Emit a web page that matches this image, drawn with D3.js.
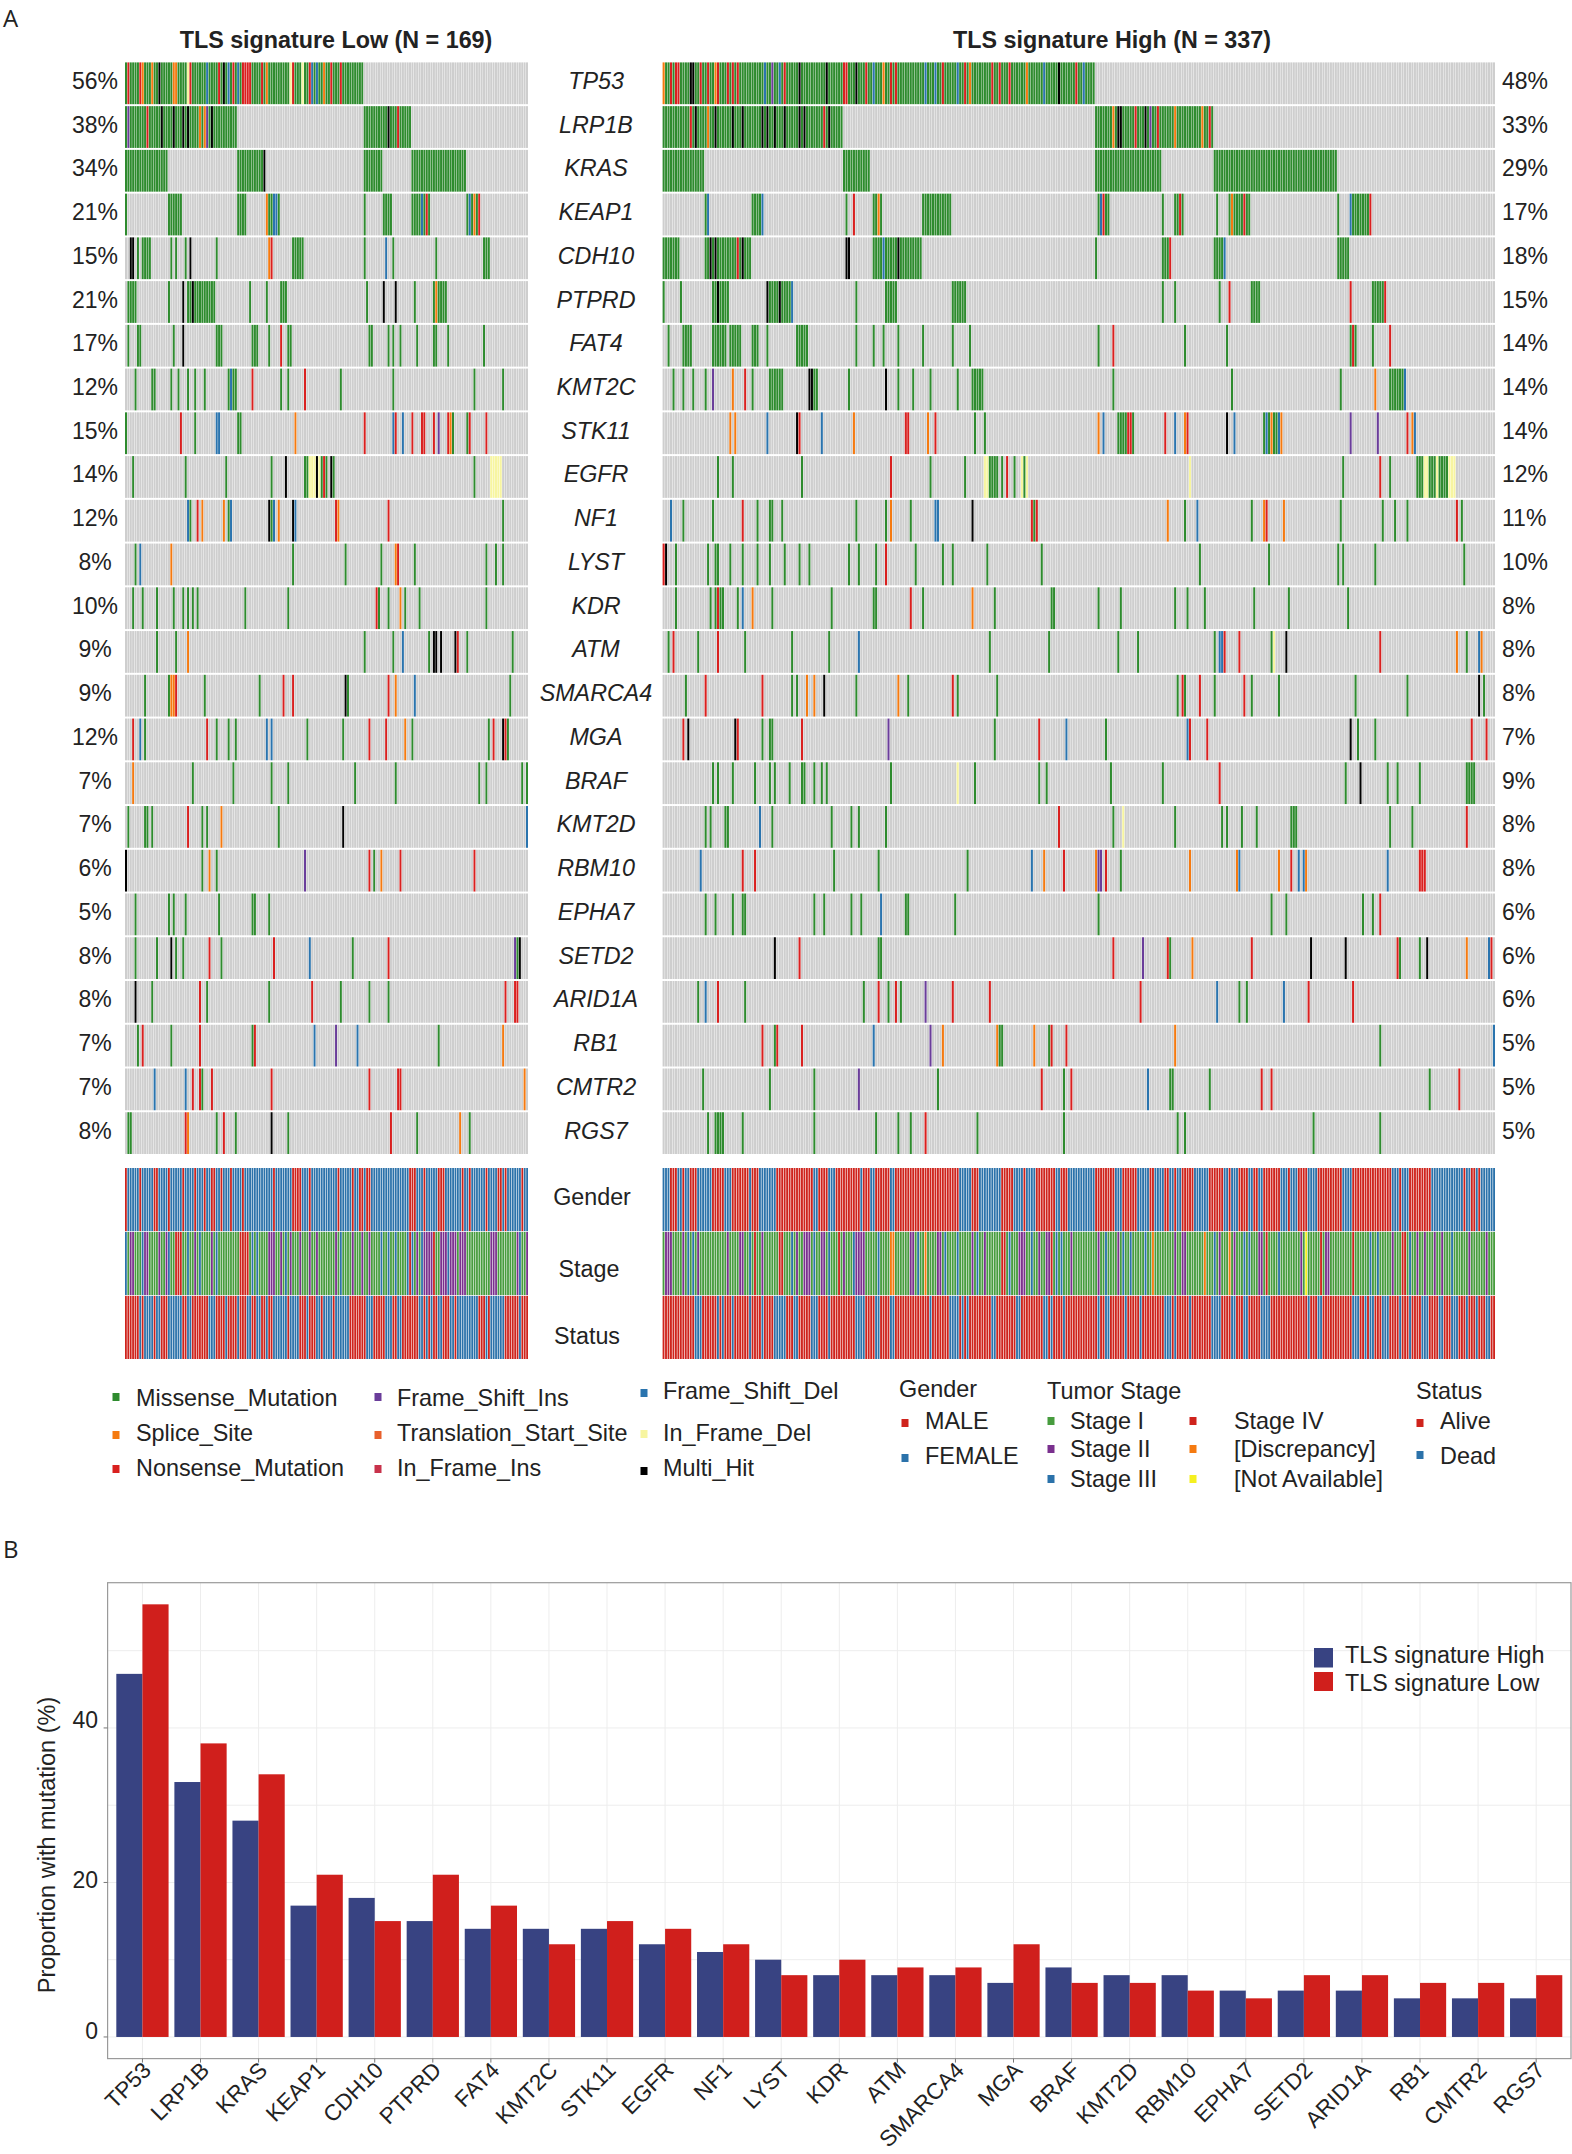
<!DOCTYPE html>
<html>
<head>
<meta charset="utf-8">
<script src="https://cdn.jsdelivr.net/npm/d3@7"></script>
<style>
html,body{margin:0;padding:0;background:#fff;}
svg{display:block;}
text{font-family:"Liberation Sans",Arial,sans-serif;fill:#222;}
</style>
</head>
<body>
<div id="chart"></div>
<script>
//////////////////////data//////////////////////
const genes=["TP53","LRP1B","KRAS","KEAP1","CDH10","PTPRD","FAT4","KMT2C","STK11","EGFR","NF1","LYST","KDR","ATM","SMARCA4","MGA","BRAF","KMT2D","RBM10","EPHA7","SETD2","ARID1A","RB1","CMTR2","RGS7"];
const lowPct=[56,38,34,21,15,21,17,12,15,14,12,8,10,9,9,12,7,7,6,5,8,8,7,7,8];
const highPct=[48,33,29,17,18,15,14,14,14,12,11,10,8,8,8,7,9,8,8,6,6,6,5,5,5];
const barHigh=[47,33,28,17,18,15,14,14,14,12,11,10,8,8,8,7,9,8,8,6,6,6,5,5,5];
const barLow=[56,38,34,21,15,21,17,12,15,14,12,8,10,9,9,12,7,7,6,5,8,8,7,7,8];
const nLow=169;
const nHigh=337;

//samples by position: M missense S splice N nonsense F fs_ins T tss I if_ins D fs_del E if_del H multi
const lowCalls=[
"0-99M 1N 6N 7S 11S 14H 20-21S 26E 27N 34D 39N 41H 43D 45N 47D 49-52N 57N 59S 69E 70N 74E 77N 78D 80D 83S 86N 90N",
"0-46M 1F 9N 15H 20H 24H 26H 31S 33S 34F 36H 100-119M 110H 114N",
"0-17M 47-57M 58H 100-107M 120-142M",
"0M 18-23M 47-50M 59-64M 59S 62D 63D 100M 108-111M 120-127M 124D 126N 143-148M 144D 146S 148N",
"2-3H 5M 7-10M 19M 21M 25M 27H 38M 60S 61N 70-74M 100M 109D 112M 130M 150-152M",
"1-4M 18M 24H 26-37M 28H 52M 59M 65-67M 101M 108H 113H 121M 129-134M 130S",
"1M 5-6M 20M 24H 38-40M 53-55M 60M 65N 68-69M 102-103M 110M 112M 115M 122M 129-130M 135M 150M",
"4M 11-12M 19M 22M 26M 29M 33M 43M 44D 45-46M 53N 65M 68M 75N 90M 112M 146M 158M",
"0M 23N 29M 38-39D 47-48M 71S 100N 112D 113N 116D 120N 124-125N 129N 131F 135N 136S 137M 143M 144N 151N",
"3M 25M 42M 61M 67H 75-76M 77-79E 80H 81E 82M 83N 84M 86H 87M 146M 153-157E",
"26D 27M 30N 32S 41S 43M 44D 60H 61M 62D 64S 70H 71D 88N 89S 110N 158M",
"4M 6D 19S 70M 92M 107M 113S 114N 121M 151M 155M 158M",
"3M 7M 13M 20M 24M 26M 28M 30M 50M 68M 105N 106M 110M 115S 117M 123M 151M",
"13M 21M 26S 100M 112M 116D 127M 129H 130H 132H 138H 139N 143M 162M",
"8M 18M 19-20S 21N 33M 56M 66N 70N 92H 93M 110N 113S 121D 161M",
"3N 6D 8M 34N 38M 43M 46M 59D 61D 76M 91M 102N 109N 117S 120M 152M 154N 158H 159N 160M",
"3S 28M 45M 61M 68M 96M 113M 148M 151M 166M 168M",
"1M 8-9M 11M 26N 32M 34M 40S 64M 91H 168D",
"0H 32M 35S 38M 75F 102N 104M 107S 115N 146N",
"4M 18M 20M 25M 39M 53-54M 60M",
"4M 13M 19H 21M 24M 35N 40M 62N 77D 95M 110N 163F 164M 165H",
"4H 11M 31N 34M 60M 78N 90M 102M 110M 159N 163-164N",
"5M 7N 19M 31N 53M 54N 79D 88F 97D 131M 158S",
"12D 25D 28N 31N 32M 36N 61N 102N 114-115N 167S",
"1-2M 25N 26S 38M 41N 46M 61H 68M 111N 122M 140S 144M"
];
const highCalls=[
"0-174M 0S 3N 5N 6N 11H 12H 15N 18N 21S 22N 26N 28N 30N 41D 44F 47D 49N 55H 66H 73N 74N 78H 82N 85D 89S 92N 94N 106D 110D 113N 119D 122N 124S 133N 136N 140N 147S 154D 160H 167N 170D",
"0-72M 11N 13H 18S 21H 28H 32H 40H 42H 45H 49H 55H 57H 65N 67H 175-222M 182S 184-185H 191N 195H 197F 200N 207S 218S 221N",
"0-16M 73-83M 175-201M 223-272M",
"17M 18D 36-39M 40D 74M 77N 85-88M 87S 105-116M 176-180M 177D 178N 202M 207-210M 209N 224M 229-237M 230S 235N 273M 278-286M 278D 286N",
"0-6M 17-35M 19H 21H 30N 32H 74-75H 85-104M 89D 95H 175M 202-205M 205N 223-227M 227D 273-277M",
"0M 7M 20-26M 22H 42-52M 42H 47H 52D 78M 90-94M 117-122M 202M 207M 225M 229N 238-241M 278N 287-292M 292N",
"2M 8-11M 20-25M 27-31M 36-38M 42M 54-58M 78M 85M 89M 95M 105M 117M 124M 176M 182N 211M 228M 278-280M 279N 287M 294N",
"4M 8M 12M 17M 20F 28S 33N 36M 43-48M 59-60H 61-62M 75M 90H 95M 101M 108M 119M 125-129M 182M 230M 274M 288S 294-300M 300D",
"27S 29S 42D 54H 55N 64D 77S 98-99N 107S 110N 126M 130M 176S 178D 184-190M 188N 189N 203N 207D 211S 212N 228H 231D 243-250M 244D 246S 249D 250S 278F 289F 301N 303S 304D",
"22M 28M 56M 92N 108M 122M 130-131E 132-135M 137M 139N 142M 145E 146M 147E 213E 275M 290N 294M 305-320M 308-309E 313E 318-320E",
"3D 8M 20M 32N 38M 43-44M 48M 78M 90M 92S 100M 110-111D 125H 149N 150M 151N 204S 211M 216D 238M 243S 244N 251S 274M 291M 296M 301M 321N 323M",
"0N 1H 5M 18M 21-22M 27M 32M 38M 43M 49M 55M 59M 75M 79M 86M 90N 102M 113M 117M 131M 153M 217M 245M 273M 275M 288M 324M",
"5M 19M 21-24M 22N 30M 32D 36S 44M 68M 85M 86M 100N 105M 125S 134M 157-158M 176M 185M 207M 212M 219M 239M 253M 277M",
"2M 4N 14M 22N 33M 52M 67M 79D 132M 156M 184M 192M 223M 225-226D 227N 233N 246M 247E 252H 290N 321S 325M 330D 331S",
"9M 17N 40N 52M 54M 58S 61S 65H 78M 95S 99M 117N 119M 135M 208M 210N 211M 217N 223M 235N 238M 249M 280M 301M 330H 332M",
"8N 10H 29H 30N 40M 43-44M 56N 91F 134M 152N 163D 179M 212D 213N 220N 278H 281M 288M 327N 333N",
"20M 22M 28M 37M 43M 45M 51M 56-57M 61M 64M 66M 92M 119E 126M 152M 155M 181M 202M 225N 276M 282H 293M 297M 306M 325-328M",
"17M 19M 25-26M 39D 44M 68M 76M 79M 90M 160N 182M 186E 207M 226M 228M 234M 240M 254-256M 294M 303M 325N",
"15D 32N 37N 69M 87M 123M 149D 154S 162N 175S 176-177F 179N 185M 213S 232S 233D 249S 254N 257D 259D 260S 293D 306-308N",
"17M 21M 28M 32-33M 61M 65M 76M 80M 88D 98M 99M 118M 176M 246M 252M 283M 287M 290N",
"45H 55N 87-88M 182N 194F 204N 205M 214S 238N 262H 276H 297N 298M 306M 309H 325S 334D 335N",
"14M 17D 22N 33M 81M 87N 91M 94N 96M 106F 117N 132N 193N 224D 233M 236M 251D 261N 279N",
"40N 45M 46N 56N 85D 108F 113S 135S 136-137M 150S 156M 157N 163N 207S 290M 336D",
"16M 43M 61M 79F 111M 153N 162M 165N 196D 205-206M 221M 242N 246N 310M 322N",
"18M 21-24M 32M 61M 86M 95M 100M 106N 127M 162M 208M 211M 263M 290M"
];

//annotation tracks, same position format
const lowGender="0-168f 0m 6m 12-13m 18m 24m 29m 33m 36-37m 40m 44m 49m 62m 70-73m 77m 89m 95m 98-99m 101-102m 119-121m 125m 131m 132-133m 141m 144m 151m 156-157m 159m 166m";
const lowStage="0-168g 0b 2-3p 7b 8-9p 14p 17p 18b 21-23r 26b 29p 31b 36p 38b 48-51r 53b 55b 60-62p 65p 67b 69p 73p 77p 80p 88p 90b 95p 99p 102p 107b 110b 113b 118b 119r 120b 122p 124b 125-128p 129r 132-138p 135b 140-142p 153-155p 164p 165b 168p";
const lowStatus="0-168d 0-5a 7a 12a 15-17a 24a 25a 28-32a 33-34a 38-41a 43-46a 48-50a 53-54a 57-58a 60-61a 68a 73-75a 77-79a 82a 87a 94-100a 104-108a 112-113a 116-122a 125a 127a 129-130a 133-135a 138a 148-150a 152a 159-164a 166-168a";
const highGender="0-336f 3-5m 8m 11-13m 20-24m 28-34m 36-38m 46-60m 63-66m 70-79m 81-83m 86-91m 94-98m 99-119m 125-127m 137-141m 146m 151-158m 161-163m 175-182m 186-191m 197-198m 203-204m 207m 210-214m 221-226m 229m 233-236m 239-240m 243-249m 253m 257-260m 265-274m 279-291m 292-294m 298m 302-310m 324m 327-328m 330m";
const highStage="0-336g 1-3p 8p 10b 12b 14p 26p 31-32p 35b 37r 40p 47-48r 52b 54p 57-59p 61b 64-65p 67b 71r 73p 77b 78-81p 87b 92-93o 100-101p 103b 106o 111-112p 114b 119b 125p 127b 130p 137-138r 140b 144-146p 149b 152p 155-156p 157r 159b 161b 165p 176p 179b 184p 186b 189b 195b 198o 207p 210-211p 219o 223b 225p 229o 231p 235b 237b 241-242p 244r 249b 258p 260e 266r 268-269p 279r 286b 289b 295p 299-300r 302b 305p 308p 312p 315p 319b 326p 333p";
const highStatus="0-336a 13-15d 22d 24d 28d 35d 40d 45-49d 53-54d 60-62d 67d 78-81d 86-87d 92-93d 108d 116-119d 121d 123d 133-134d 143-144d 154-155d 157d 162d 176d 179-180d 187d 193d 203-205d 207d 213d 222-225d 230-231d 235-236d 242-245d 261d 265-266d 279-281d 284d 286-287d 291-293d 298d 302d 307-309d 314-315d 319-321d 325d 329d 333-334d";

//凡例
const mutTypes=["M","S","N","F","T","I","D","E","H"];
const mutColors=["#2E8B2E","#F57A10","#D9201F","#6A3D9A","#E8602C","#C8324B","#2A74AE","#F7F5A0","#000000"];
const mutLegend=["Missense_Mutation","Splice_Site","Nonsense_Mutation","Frame_Shift_Ins","Translation_Start_Site","In_Frame_Ins","Frame_Shift_Del","In_Frame_Del","Multi_Hit"];
const annoTypes=["m","f","g","p","b","r","o","e","a","d"];
const annoColors=["#CF231C","#2B72AA","#479C3E","#7A308E","#2B72AA","#CF231C","#F57A10","#F5F020","#CF231C","#2B72AA"];
const trackNames=["Gender","Stage","Status"];
const stageLegend=["Stage I","Stage II","Stage III","Stage IV","[Discrepancy]","[Not Available]"];
const stageKeys=["g","p","b","r","o","e"];
const yTicksB=[0,20,40];
const yGridMinor=[10,30,50];

//////////////////////draw//////////////////////
const width=1572,height=2154;
const svg=d3.select("#chart").append("svg").attr("width",width).attr("height",height);
const mutColor=d3.scaleOrdinal(mutTypes,mutColors);
const annoColor=d3.scaleOrdinal(annoTypes,annoColors);

//"3-5M 7N" -> {3:"M",4:"M",5:"M",7:"N"}
function parseRuns(s){
    let res={};
    s.split(" ").forEach(function(tok){
        let m=tok.match(/^(\d+)(?:-(\d+))?([A-Za-z])$/);
        let a=+m[1],b=m[2]?+m[2]:a;
        for(let i=a;i<=b;i++){res[i]=m[3];}
    });
    return res;
}

const yRow=d3.scaleBand().domain(genes).range([62.4,1154]).paddingInner(0.045);
const yTrack=d3.scaleBand().domain(trackNames).range([1168,1359]).paddingInner(0.012);

function drawPanel(x,xt,calls,tracks){
    let g=svg.append("g");
    genes.forEach(function(gene,i){
        let row=parseRuns(calls[i]);
        g.append("g").selectAll("rect").data(x.domain()).enter().append("rect")
            .attr("x",function(d){return x(d);})
            .attr("y",yRow(gene))
            .attr("width",x.bandwidth())
            .attr("height",yRow.bandwidth())
            .attr("fill",function(d){return row[d]?mutColor(row[d]):"#CECECE";});
    });
    trackNames.forEach(function(name,i){
        let row=parseRuns(tracks[i]);
        g.append("g").selectAll("rect").data(xt.domain()).enter().append("rect")
            .attr("x",function(d){return xt(d);})
            .attr("y",yTrack(name))
            .attr("width",xt.bandwidth())
            .attr("height",yTrack.bandwidth())
            .attr("fill",function(d){return annoColor(row[d]);});
    });
}
const xLow=d3.scaleBand().domain(d3.range(nLow)).range([125,528]).paddingInner(0.16);
const xHigh=d3.scaleBand().domain(d3.range(nHigh)).range([662.6,1495]).paddingInner(0.16);
const xLowTrack=d3.scaleBand().domain(d3.range(nLow)).range([125,528]).paddingInner(0.25);
const xHighTrack=d3.scaleBand().domain(d3.range(nHigh)).range([662.6,1495]).paddingInner(0.25);
drawPanel(xLow,xLowTrack,lowCalls,[lowGender,lowStage,lowStatus]);
drawPanel(xHigh,xHighTrack,highCalls,[highGender,highStage,highStatus]);

function label(x,y,txt,size,anchor,extra){
    let t=svg.append("text").attr("x",x).attr("y",y).attr("font-size",size)
        .attr("text-anchor",anchor||"start").attr("dominant-baseline","central").text(txt);
    if(extra){extra(t);}
    return t;
}
//panel letters
label(3,17,"A",24,"start",function(t){t.style("font-family","'Open Sans'");});
label(3,1548,"B",24,"start",function(t){t.style("font-family","'Open Sans'");});
//titles
label(336,40,"TLS signature Low (N = 169)",23.3,"middle",function(t){t.attr("font-weight","bold");});
label(1112,40,"TLS signature High (N = 337)",23.3,"middle",function(t){t.attr("font-weight","bold");});
//gene rows
genes.forEach(function(gene,i){
    let cy=yRow(gene)+yRow.bandwidth()/2-2.5;
    label(95,cy,lowPct[i]+"%",23,"middle");
    label(1502,cy,highPct[i]+"%",23,"start");
    label(596,cy,gene,23.3,"middle",function(t){t.attr("font-style","italic");});
});
label(592,1197,"Gender",23.3,"middle");
label(589,1269,"Stage",23.3,"middle");
label(587,1336,"Status",23.3,"middle");

//////////////////////legend//////////////////////
const legendSize=23.4;
function legendItem(sx,sy,tx,ty,txt,col){
    svg.append("rect").attr("x",sx-3.5).attr("y",sy-4).attr("width",7).attr("height",8).attr("fill",col);
    label(tx,ty,txt,legendSize);
}
const mutLegendX=[[116,136],[378,397],[644,663]];
const mutLegendY=[[1397,1435,1469],[1397,1435,1469],[1393,1434,1471]];
const mutTextY=[[1398,1433,1468],[1398,1433,1468],[1391,1433,1468]];
mutLegend.forEach(function(txt,i){
    let c=Math.floor(i/3),r=i%3;
    legendItem(mutLegendX[c][0],mutLegendY[c][r],mutLegendX[c][1],mutTextY[c][r],txt,mutColor(mutTypes[i]));
});
label(899,1389,"Gender",legendSize);
legendItem(905,1423,925,1421,"MALE",annoColor("m"));
legendItem(905,1458,925,1456,"FEMALE",annoColor("f"));
label(1047,1391,"Tumor Stage",legendSize);
const stageY=[1421,1449,1479];
stageLegend.forEach(function(txt,i){
    let c=Math.floor(i/3),r=i%3;
    legendItem(c?1193:1051,stageY[r],c?1234:1070,stageY[r],txt,annoColor(stageKeys[i]));
});
label(1416,1391,"Status",legendSize);
legendItem(1420,1423,1440,1421,"Alive",annoColor("a"));
legendItem(1420,1455,1440,1456,"Dead",annoColor("d"));

//////////////////////panel B//////////////////////
const plot={left:107.6,right:1571,top:1582.7,bottom:2058.6};
const yB=d3.scaleLinear().domain([-2.8,58.8]).range([plot.bottom,plot.top]);
const xB=d3.scaleBand().domain(genes).range([plot.left,plot.right]).paddingInner(0.1).paddingOuter(0.15);
const xSub=d3.scaleBand().domain(["High","Low"]).range([0,xB.bandwidth()]);
const gB=svg.append("g");
gB.selectAll("line.h").data(yTicksB.concat(yGridMinor)).enter().append("line")
    .attr("x1",plot.left).attr("x2",plot.right)
    .attr("y1",function(d){return yB(d);}).attr("y2",function(d){return yB(d);})
    .attr("stroke","#EDEDED").attr("stroke-width",1);
gB.selectAll("line.v").data(genes).enter().append("line")
    .attr("x1",function(d){return xB(d)+xB.bandwidth()/2;}).attr("x2",function(d){return xB(d)+xB.bandwidth()/2;})
    .attr("y1",plot.top).attr("y2",plot.bottom)
    .attr("stroke","#EDEDED").attr("stroke-width",1);
gB.selectAll("rect.high").data(genes).enter().append("rect")
    .attr("x",function(d){return xB(d)+xSub("High");})
    .attr("y",function(d,i){return yB(barHigh[i]);})
    .attr("width",xSub.bandwidth())
    .attr("height",function(d,i){return yB(0)-yB(barHigh[i]);})
    .attr("fill","#384382");
gB.selectAll("rect.low").data(genes).enter().append("rect")
    .attr("x",function(d){return xB(d)+xSub("Low");})
    .attr("y",function(d,i){return yB(barLow[i]);})
    .attr("width",xSub.bandwidth())
    .attr("height",function(d,i){return yB(0)-yB(barLow[i]);})
    .attr("fill","#D01F1C");
gB.append("rect").attr("x",plot.left).attr("y",plot.top)
    .attr("width",plot.right-plot.left).attr("height",plot.bottom-plot.top)
    .attr("fill","none").attr("stroke","#9A9A9A").attr("stroke-width",1.2);

yTicksB.forEach(function(v){
    gB.append("line").attr("x1",plot.left-4).attr("x2",plot.left).attr("y1",yB(v)).attr("y2",yB(v)).attr("stroke","#777");
    label(98,yB(v)-(v==20?2:v==40?8:6),v,23,"end");
});
genes.forEach(function(gene){
    let cx=xB(gene)+xB.bandwidth()/2;
    gB.append("line").attr("x1",cx).attr("x2",cx).attr("y1",plot.bottom).attr("y2",plot.bottom+4).attr("stroke","#777");
    svg.append("text").attr("font-size",22.5).attr("text-anchor","end")
        .attr("transform","translate("+(cx+10)+","+(plot.bottom+13)+") rotate(-45)")
        .text(gene);
});
svg.append("text").attr("font-size",23.5).attr("text-anchor","middle")
    .attr("transform","translate(55,1845) rotate(-90)")
    .text("Proportion with mutation (%)");

svg.append("rect").attr("x",1314).attr("y",1648).attr("width",19).attr("height",19.5).attr("fill","#384382");
svg.append("rect").attr("x",1314).attr("y",1672).attr("width",19).attr("height",19).attr("fill","#D01F1C");
label(1345,1655,"TLS signature High",23.3);
label(1345,1682.6,"TLS signature Low",23.3);
</script>
</body>
</html>
